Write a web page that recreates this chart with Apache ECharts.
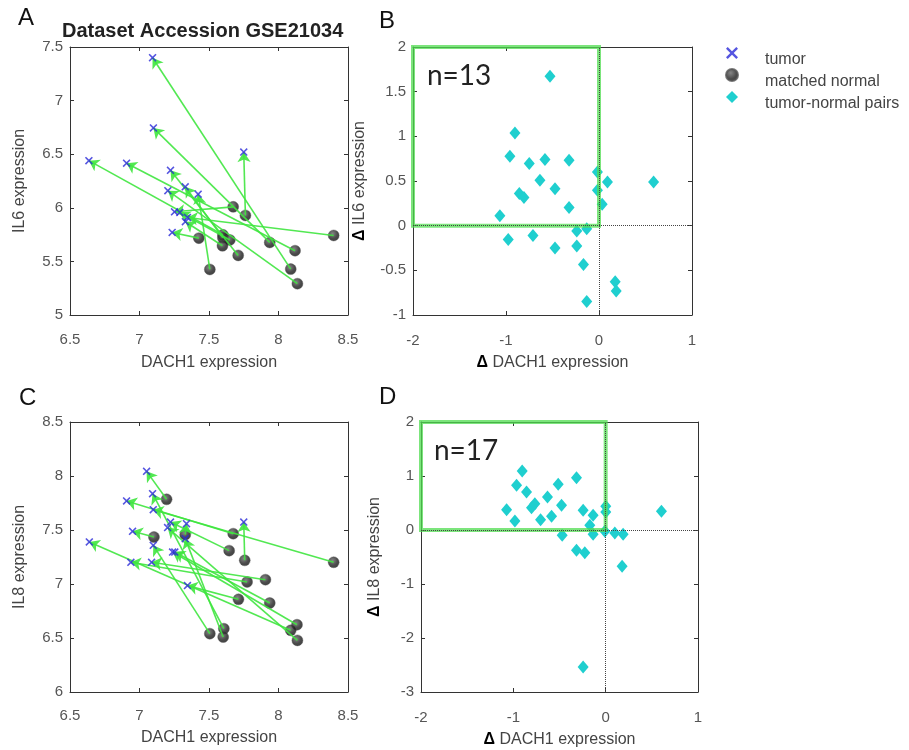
<!DOCTYPE html>
<html>
<head>
<meta charset="utf-8">
<script src="https://cdn.jsdelivr.net/npm/echarts@6/dist/echarts.min.js"></script>
<style>html,body{margin:0;padding:0;background:#fff;}#c{width:909px;height:750px;}</style>
</head>
<body>
<div id="c"></div>
<script>
// ---- Panel A: IL6 vs DACH1 (tumor / matched normal pairs, index-matched) ----
const tumorA_x  = [7.094, 7.10, 7.75, 6.636, 6.907, 7.223, 7.204, 7.329, 7.422, 7.252, 7.29, 7.345, 7.33, 7.235];
const tumorA_y  = [7.40, 6.745, 6.52, 6.44, 6.416, 6.35, 6.16, 6.196, 6.127, 5.963, 5.957, 5.91, 5.87, 5.77];
const normalA_x = [8.088, 7.937, 7.762, 7.60, 8.119, 7.71, 8.136, 7.60, 7.506, 7.674, 7.65, 8.397, 7.597, 7.427];
const normalA_y = [5.428, 5.677, 5.929, 5.748, 5.60, 5.556, 5.292, 5.72, 5.425, 6.009, 5.70, 5.742, 5.646, 5.717];

// ---- Panel B: delta IL6 vs delta DACH1 ----
const deltaB_x = [-0.527, -0.904, -0.958, -0.750, -0.581, -0.322, -0.635, -0.473, -0.857, -0.807, -0.322, -1.066,
                  -0.017, -0.017, 0.091, 0.034, 0.587, -0.976, -0.710, -0.239, -0.132, -0.473, -0.239, -0.167, 0.174, 0.185, -0.132];
const deltaB_y = [1.672, 1.038, 0.778, 0.696, 0.740, 0.733, 0.509, 0.412, 0.360, 0.315, 0.204, 0.110,
                  0.602, 0.397, 0.490, 0.241, 0.490, -0.154, -0.110, -0.061, -0.035, -0.251, -0.229, -0.434, -0.628, -0.732, -0.848];

// ---- Panel C: IL8 vs DACH1 ----
const tumorC_x  = [7.051, 7.75, 7.099, 6.907, 6.95, 7.338, 7.223, 6.938, 7.087, 7.345, 7.254, 7.238, 6.639, 7.202, 7.099, 7.094, 7.329];
const tumorC_y  = [8.043, 7.574, 7.688, 7.769, 7.488, 7.559, 7.574, 7.201, 7.201, 6.985, 7.296, 7.296, 7.389, 7.522, 7.358, 7.836, 7.42];
const normalC_x = [7.195, 7.757, 8.397, 7.674, 7.104, 7.329, 7.645, 7.774, 7.906, 7.712, 7.937, 8.133, 8.088, 8.136, 7.506, 7.607, 7.602];
const normalC_y = [7.784, 7.219, 7.201, 7.466, 7.435, 7.457, 7.309, 7.019, 7.040, 6.858, 6.824, 6.623, 6.571, 6.478, 6.540, 6.586, 6.509];

// ---- Panel D: delta IL8 vs delta DACH1 ----
const deltaD_x = [-0.904, -0.965, -0.857, -0.316, -0.514, -0.630, -0.767, -0.803, -0.478, -1.073, -0.983, -0.705, -0.586, -0.244,
                  -0.136, -0.172, 0.001, 0.001, 0.604, -0.471, -0.136, -0.009, 0.099, 0.189, -0.316, -0.226, 0.178, -0.244];
const deltaD_y = [1.093, 0.827, 0.704, 0.969, 0.846, 0.611, 0.488, 0.414, 0.457, 0.377, 0.167, 0.191, 0.253, 0.364,
                  0.272, 0.086, 0.438, 0.333, 0.346, -0.099, -0.080, -0.025, -0.056, -0.080, -0.377, -0.420, -0.673, -2.537];

const legendNames = ['tumor', 'matched normal', 'tumor-normal pairs'];
const panelLetters = ['A', 'B', 'C', 'D'];
const titleText = 'Dataset Accession GSE21034';
const countLabels = ['n=13', 'n=17'];

// ---------------------------------------------------------------------------
const zip = (a, b) => a.map((v, i) => [v, b[i]]);
const pairs = (nx, ny, tx, ty) => nx.map((v, i) => ({ coords: [[v, ny[i]], [tx[i], ty[i]]] }));

const FONT = '"Liberation Sans", Arial, sans-serif';
const xPath = 'path://M0,1.4L1.4,0L5,3.6L8.6,0L10,1.4L6.4,5L10,8.6L8.6,10L5,6.4L1.4,10L0,8.6L3.6,5Z';
const tumorColor = '#2a2ad8';
const normalColor = { type: 'radial', x: 0.4, y: 0.35, r: 0.7,
  colorStops: [{ offset: 0, color: '#666' }, { offset: 0.6, color: '#1e1e1e' }, { offset: 1, color: '#111' }] };
const arrowColor = '#3fe63f';
const diamondColor = '#1fcfcf';
const rectColor = 'rgba(80,220,80,0.75)';

const grids = [
  { left: 70,  top: 47,  width: 278, height: 268 },
  { left: 413, top: 47,  width: 279, height: 268 },
  { left: 70,  top: 422, width: 278, height: 270 },
  { left: 421, top: 422, width: 277, height: 270 }
];

const axisSpec = [
  { x: [6.5, 8.5, 0.5], y: [5, 7.5, 0.5], xn: 'DACH1 expression', yn: 'IL6 expression', yGap: 42, xGap: 40, xMargin: 17 },
  { x: [-2, 1, 1], y: [-1, 2, 0.5], xn: '{d|Δ} DACH1 expression', yn: '{d|Δ} IL6 expression', yGap: 45, xGap: 40, xMargin: 18 },
  { x: [6.5, 8.5, 0.5], y: [6, 8.5, 0.5], xn: 'DACH1 expression', yn: 'IL8 expression', yGap: 42, xGap: 38, xMargin: 16 },
  { x: [-2, 1, 1], y: [-3, 2, 1], xn: '{d|Δ} DACH1 expression', yn: '{d|Δ} IL8 expression', yGap: 38, xGap: 40, xMargin: 18 }
];

const nameStyle = { fontFamily: FONT, fontSize: 16, color: '#444',
  rich: { d: { fontFamily: FONT, fontSize: 16, fontWeight: 'bold', color: '#000' } } };
const lineStyle = { show: true, onZero: false, lineStyle: { color: '#333', width: 1 } };
const tickStyle = { show: true, inside: true, length: 4, lineStyle: { color: '#333' } };

const xAxes = [], yAxes = [];
axisSpec.forEach((s, i) => {
  xAxes.push({ type: 'value', gridIndex: i, min: s.x[0], max: s.x[1], interval: s.x[2],
    name: s.xn, nameLocation: 'middle', nameGap: s.xGap, nameTextStyle: nameStyle,
    axisLine: lineStyle, axisTick: tickStyle, splitLine: { show: false },
    axisLabel: { fontFamily: FONT, fontSize: 15, color: '#555', margin: s.xMargin } });
  xAxes.push({ type: 'value', gridIndex: i, position: 'top', min: s.x[0], max: s.x[1], interval: s.x[2],
    axisLine: lineStyle, axisTick: tickStyle, splitLine: { show: false }, axisLabel: { show: false } });
  yAxes.push({ type: 'value', gridIndex: i, min: s.y[0], max: s.y[1], interval: s.y[2],
    name: s.yn, nameLocation: 'middle', nameGap: s.yGap, nameTextStyle: nameStyle,
    axisLine: lineStyle, axisTick: tickStyle, splitLine: { show: false },
    axisLabel: { fontFamily: FONT, fontSize: 15, color: '#555', margin: 7 } });
  yAxes.push({ type: 'value', gridIndex: i, position: 'right', min: s.y[0], max: s.y[1], interval: s.y[2],
    axisLine: lineStyle, axisTick: tickStyle, splitLine: { show: false }, axisLabel: { show: false } });
});

function pairPanel(g, nx, ny, tx, ty) {
  return [
    { name: 'matched normal', type: 'scatter', xAxisIndex: 2 * g, yAxisIndex: 2 * g, symbol: 'circle', symbolSize: 11,
      itemStyle: { color: normalColor, borderColor: '#555', borderWidth: 0.5 }, z: 2, data: zip(nx, ny) },
    { name: 'arrows' + g, type: 'lines', coordinateSystem: 'cartesian2d', xAxisIndex: 2 * g, yAxisIndex: 2 * g,
      symbol: ['none', 'arrow'], symbolSize: 10, z: 3, silent: true,
      lineStyle: { color: arrowColor, width: 1.6, opacity: 0.9 }, data: pairs(nx, ny, tx, ty) },
    { name: 'tumor', type: 'scatter', xAxisIndex: 2 * g, yAxisIndex: 2 * g, symbol: xPath, symbolSize: 8,
      itemStyle: { color: tumorColor }, z: 4, data: zip(tx, ty) }
  ];
}

function deltaPanel(g, dx, dy) {
  return {
    name: 'tumor-normal pairs', type: 'scatter', xAxisIndex: 2 * g, yAxisIndex: 2 * g,
    symbol: 'diamond', symbolSize: [11, 13], itemStyle: { color: diamondColor, opacity: 1 }, z: 3,
    data: zip(dx, dy),
    markLine: { silent: true, symbol: 'none', label: { show: false }, animation: false,
      lineStyle: { color: '#444', type: 'dotted', width: 1 }, data: [{ xAxis: 0 }, { yAxis: 0 }] },
    markArea: { silent: true, animation: false, z: 5,
      itemStyle: { color: 'rgba(0,0,0,0)', borderColor: rectColor, borderWidth: 4 },
      data: [[{ coord: [-2, 0] }, { coord: [0, 2] }]] }
  };
}

const series = [
  ...pairPanel(0, normalA_x, normalA_y, tumorA_x, tumorA_y),
  deltaPanel(1, deltaB_x, deltaB_y),
  ...pairPanel(2, normalC_x, normalC_y, tumorC_x, tumorC_y),
  deltaPanel(3, deltaD_x, deltaD_y)
];

const letterPos = [[18, 6], [379, 9], [19, 386], [379, 385]];
const graphics = panelLetters.map((t, i) => ({ type: 'text', left: letterPos[i][0], top: letterPos[i][1],
  style: { text: t, fontFamily: FONT, fontSize: 24, fill: '#111' } }));
const nFont = 'Lato, "Open Sans", sans-serif';
graphics.push({ type: 'text', left: 427, top: 62, style: { text: countLabels[0], fontFamily: nFont, fontSize: 28, fill: '#222' } });
graphics.push({ type: 'text', left: 434, top: 437, style: { text: countLabels[1], fontFamily: nFont, fontSize: 28, fill: '#222' } });
graphics.push({ type: 'text', left: 62, top: 21, style: { text: titleText, fontFamily: FONT, fontSize: 20, fontWeight: 'bold', fill: '#222' } });

const chart = echarts.init(document.getElementById('c'), null, { renderer: 'canvas' });
chart.setOption({
  animation: false,
  backgroundColor: '#fff',
  grid: grids,
  xAxis: xAxes,
  yAxis: yAxes,
  legend: { data: legendNames, orient: 'vertical', left: 725, top: 38, padding: 0,
    itemWidth: 12, itemHeight: 12, itemGap: -8,
    formatter: n => '\n' + n,
    textStyle: { fontFamily: FONT, fontSize: 16, lineHeight: 14, color: '#444', padding: [0, 0, 0, 22] },
    selectedMode: false },
  graphic: graphics,
  series: series
});
</script>
</body>
</html>
